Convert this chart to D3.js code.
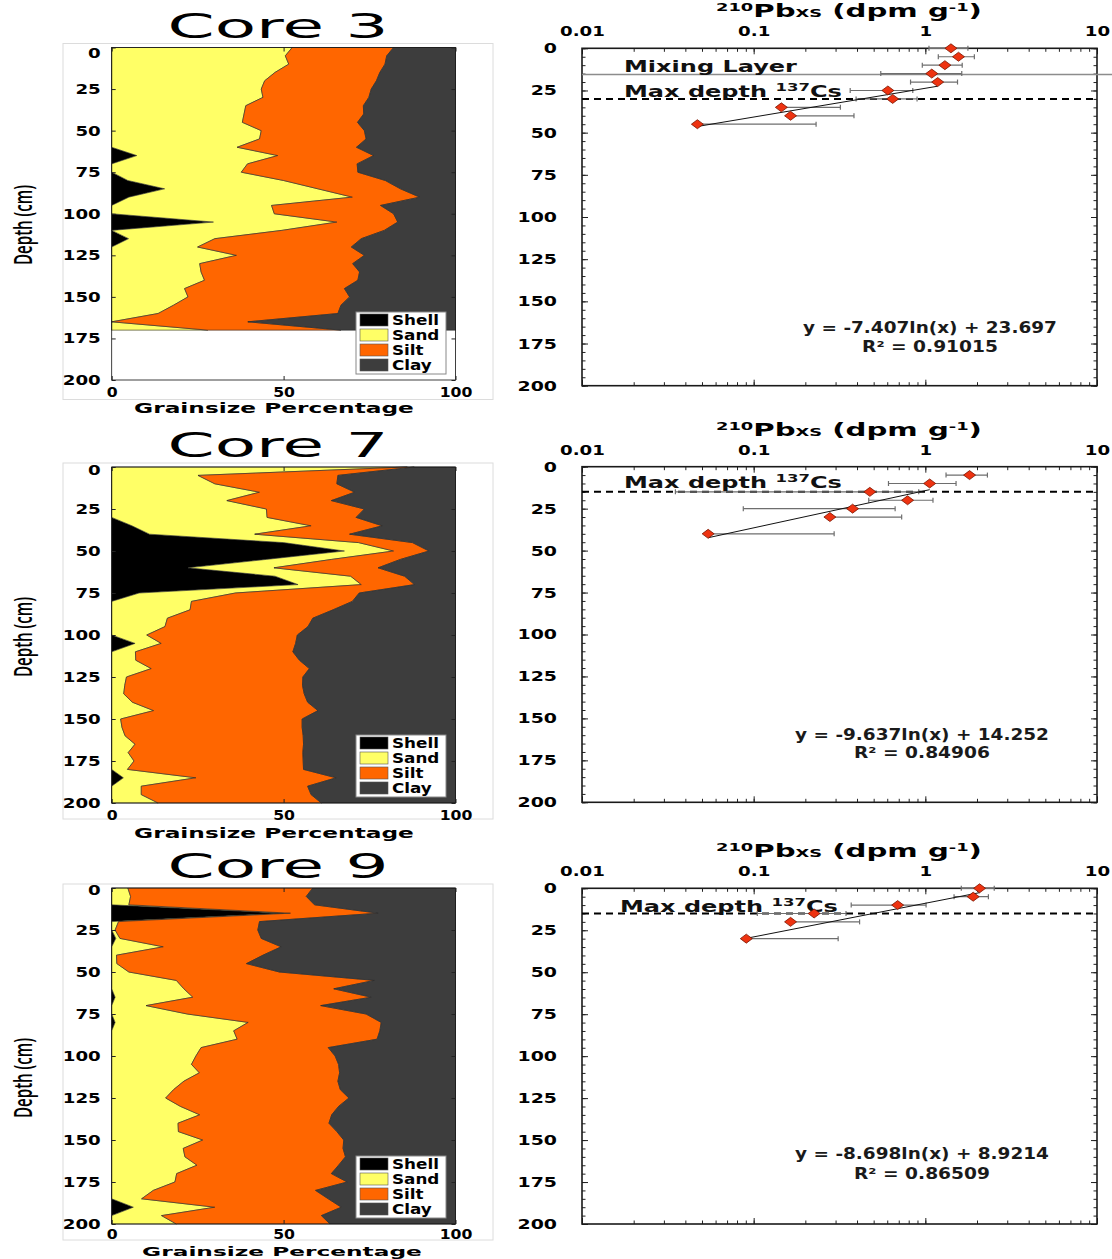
<!DOCTYPE html>
<html>
<head>
<meta charset="utf-8">
<script src="https://cdn.jsdelivr.net/npm/d3@7"></script>
<style>
  body { margin: 0; background: #fff; }
</style>
</head>
<body>
<div id="chart"></div>
<script>
// grain size components (percent of sample), cores sampled every 5 cm
var components = ["Shell", "Sand", "Silt", "Clay"];
var componentColours = ["#000000", "#ffff66", "#ff6600", "#3d3d3d"];

var depth3 = [0,5,10,15,20,25,30,35,40,45,50,55,60,65,70,75,80,85,90,95,100,105,110,115,120,125,130,135,140,145,150,155,160,165,170];
var shell3 = [0,0,0,0,0,0,0,0,0,0,0,0,0,7.3,0,0,4.7,15.4,5,0,0,29.6,0,4.9,0,0,0,0,0,0,0,0,0,0,0];
var sand3  = [52.5,50.5,51.5,47.5,44.5,43.5,44,39,38.5,38,43.5,43,36.5,41,39.5,37.7,45.3,44.6,65,46.5,47.3,35.9,49.5,25.1,25,36.3,25.6,26,27,21.2,22.2,18,13.5,0,28];
var silt3  = [29.5,29.5,28,30.5,32.5,32,30.8,34.2,34.8,33.5,30,31,34.7,27.9,31.9,33.9,29.6,24,19.6,31.7,34.7,17.7,29.8,42.6,44.7,37.2,44.5,46.1,44.6,46.5,47,48.7,52.3,39.6,38.7];
var clay3  = [18,20,20.5,22,23,24.5,25.2,26.8,26.7,28.5,26.5,26,28.8,23.8,28.6,28.4,20.4,16,10.4,21.8,18,16.8,20.7,27.4,30.3,26.5,29.9,27.9,28.4,32.3,30.8,33.3,34.2,60.4,33.3];

var depth7 = [0,5,10,15,20,25,30,35,40,45,50,55,60,65,70,75,80,85,90,95,100,105,110,115,120,125,130,135,140,145,150,155,160,165,170,175,180,185,190,195,200];
var shell7 = [0,0,0,0,0,0,0,5.9,11,50,67.7,45,22.2,47.5,54.2,8,0,0,0,0,0,6.8,0,0,0,0,0,0,0,0,0,0,0,0,0,0,0,3.4,0,0,0];
var sand7  = [86,25.1,30,43,33.5,45,45.2,52.1,30.6,21.8,14.3,19,25,22,18.4,28,23.2,22.8,16.2,15.5,10.2,7.6,6.9,7,11.5,4.3,3.8,3.5,6,12.2,2.6,3,3.9,6.8,4.8,6.5,4.6,21.1,8.6,8.6,13.5];
var silt7  = [2,40.7,35.5,27.7,30.4,28.5,25.9,20.7,27.6,15.7,10.3,20,30.3,15.7,15.5,36,46.8,41.6,42.3,41.6,43.8,39.1,45.8,47.6,46,51.3,51.7,52.5,51,47.8,52.8,52.4,51.8,49,50.8,49.2,51.2,40.8,48.4,49.4,47.5];
var clay7  = [12,34.2,34.5,29.3,36.1,26.5,28.9,21.3,30.8,12.5,7.7,16,22.5,14.8,11.9,28,30,35.6,41.5,42.9,46,46.5,47.3,45.4,42.5,44.4,44.5,44,43,40,44.6,44.6,44.3,44.2,44.4,44.3,44.2,34.7,43,42,39];

var depth9 = [0,5,10,15,20,25,30,35,40,45,50,55,60,65,70,75,80,85,90,95,100,105,110,115,120,125,130,135,140,145,150,155,160,165,170,175,180,185,190,195,200];
var shell9 = [0,0,0,50,0,0,1.2,0,0,0,0,0,0,1,0,0,1,0,0,0,0,0,0,0,0,0,0,0,0,0,0,0,0,0,0,0,0,0,6.3,0,0];
var sand9  = [4.7,5.5,5,2,2,1,1.2,15,1.4,1.5,5,18.8,21,22.6,10,22,38.7,35.5,36.5,26,24.5,23.2,25.5,21,18,15.7,20,25.6,19.3,19.4,26.5,20.8,21.3,24.8,18.9,18.4,12.1,8.7,23.7,14.5,18.8];
var silt9  = [53.8,51.1,54,25.5,41,41.5,41.1,34.3,42.6,37.7,43.8,57.6,43.6,51.9,50.8,52,38.7,42.5,40.7,37,40.5,42.8,40.8,44.8,48.5,53.3,46,38.4,43.9,46.1,41,46.5,46.7,41.2,45,50.1,47.2,54.3,36.8,46.5,44.7];
var clay9  = [41.5,43.4,41,22.5,57,57.5,56.5,50.7,56,60.8,51.2,23.6,35.4,24.5,39.2,26,21.6,22,22.8,37,35,34,33.7,34.2,33.5,31,34,36,36.8,34.5,32.5,32.7,32,34,36.1,31.5,40.7,37,33.2,39,36.5];

// 210Pb excess activity (dpm/g) with its error
var pbDepth3 = [0,5,10,15,20,25,30,35,40,45];
var pbValue3 = [1.41,1.56,1.30,1.09,1.18,0.605,0.645,0.145,0.164,0.047];
var pbError3 = [0.36,0.37,0.34,0.54,0.36,0.24,0.25,0.175,0.22,0.184];
var pbDepth7 = [5,10,15,20,25,30,40];
var pbValue7 = [1.81,1.06,0.475,0.788,0.377,0.278,0.0543];
var pbError7 = [0.49,0.45,0.44,0.32,0.29,0.45,0.24];
var pbDepth9 = [0,5,10,15,20,30];
var pbValue9 = [2.07,1.90,0.69,0.225,0.164,0.0906];
var pbError9 = [0.45,0.43,0.32,0.12,0.25,0.22];

// log fits y = a ln(x) + b, the range of x they cover, and R squared
var fitCoef3 = [-7.407, 23.697], fitRange3 = [0.047, 1.18], fitR2_3 = "0.91015";
var fitCoef7 = [-9.637, 14.252], fitRange7 = [0.0543, 1.06], fitR2_7 = "0.84906";
var fitCoef9 = [-8.698, 8.9214], fitRange9 = [0.0906, 2.07], fitR2_9 = "0.86509";

var csDepth = [30, 15, 15];      // max depth of 137Cs
var mixingDepth = [15.5, null, null];

var depthTicks = [0,25,50,75,100,125,150,175,200];
var percentTicks = [0,50,100];
var pbTicks = [0.01,0.1,1,10];

var cores = [
  {name: "Core 3", depth: depth3, Shell: shell3, Sand: sand3, Silt: silt3, Clay: clay3,
   pbDepth: pbDepth3, pbValue: pbValue3, pbError: pbError3, fit: fitCoef3, fitRange: fitRange3, r2: fitR2_3},
  {name: "Core 7", depth: depth7, Shell: shell7, Sand: sand7, Silt: silt7, Clay: clay7,
   pbDepth: pbDepth7, pbValue: pbValue7, pbError: pbError7, fit: fitCoef7, fitRange: fitRange7, r2: fitR2_7},
  {name: "Core 9", depth: depth9, Shell: shell9, Sand: sand9, Silt: silt9, Clay: clay9,
   pbDepth: pbDepth9, pbValue: pbValue9, pbError: pbError9, fit: fitCoef9, fitRange: fitRange9, r2: fitR2_9}
];

// layout
var leftTop = [47.5, 467, 888], leftBottom = [380, 803, 1224];
var rightTop = [48.3, 466.7, 888.3], rightBottom = [385.7, 802.3, 1224];
var gx0 = 111.7, gx1 = 455.5, px0 = 582, px1 = 1097;
var titleBase = [38, 457, 878];
var xTickPad = [7, 7, 5];
var xLabelBase = [413, 838, 1256], xLabelCx = [274, 274, 282], xLabelSize = [14, 14, 12.5];
var depthLabelCy = [225, 637, 1078];
var zeroShift = [6, 3, 2];
var eqCx = [930, 922, 922], eqBase = [[333, 352], [740, 758], [1159, 1179]];
var csTextX = [624, 624, 620], csTextBase = [97, 488, 912];

var svg = d3.select("#chart").append("svg")
    .attr("width", 1112).attr("height", 1259)
    .style("display", "block").style("background", "#fff");

// the source picture is stretched sideways, so texts get widened about their anchor
function stretch(sel, sx) {
  sel.each(function() {
    var t = d3.select(this), x = +t.attr("x") || 0, y = +t.attr("y") || 0;
    t.attr("transform", "translate(" + x + "," + y + ")scale(" + sx + ",1)translate(" + (-x) + "," + (-y) + ")");
  });
}
function fitWidth(t, width) {
  stretch(t, width / t.node().getComputedTextLength());
}
function styleAxis(g, size) {
  g.attr("font-family", "DejaVu Sans").attr("font-weight", "bold").attr("font-size", size);
  g.select(".domain").remove();
  g.selectAll("line").attr("stroke", "#222");
  g.selectAll("text").attr("fill", "#000");
}

cores.forEach(function(c, i) {
  //
  // grain size panel
  //
  var gt = leftTop[i], gb = leftBottom[i];
  var x = d3.scaleLinear().domain([0, 100]).range([gx0, gx1]);
  var y = d3.scaleLinear().domain([0, 200]).range([gt, gb]);

  svg.append("rect").attr("x", 63).attr("y", gt - 4).attr("width", 430).attr("height", 356)
      .attr("fill", "none").attr("stroke", "#dcdcdc");

  var rows = c.depth.map(function(d, k) {
    var r = {depth: d};
    components.forEach(function(n) { r[n] = c[n][k]; });
    return r;
  });
  var series = d3.stack().keys(components)(rows);
  var area = d3.area()
      .y(function(d) { return y(d.data.depth); })
      .x0(function(d) { return x(d[0]); })
      .x1(function(d) { return x(d[1]); });
  svg.append("g").selectAll("path").data(series).join("path")
      .attr("d", area)
      .attr("fill", function(d, k) { return componentColours[k]; })
      .attr("stroke", "#2a2a2a").attr("stroke-width", 0.6).attr("stroke-linejoin", "round");

  svg.append("rect").attr("x", gx0).attr("y", gt).attr("width", gx1 - gx0).attr("height", gb - gt)
      .attr("fill", "none").attr("stroke", "#111").attr("stroke-width", 0.8);

  var yl = svg.append("g").attr("transform", "translate(" + gx0 + ",0)")
      .call(d3.axisLeft(y).tickValues(depthTicks).tickSize(-4).tickPadding(11));
  styleAxis(yl, 14);
  yl.selectAll(".tick").filter(function(d) { return d === 0; }).select("text").attr("y", zeroShift[i]);
  stretch(yl.selectAll("text"), 1.3);

  var yr = svg.append("g").attr("transform", "translate(" + gx1 + ",0)")
      .call(d3.axisRight(y).tickValues(depthTicks).tickSize(-4).tickFormat(""));
  styleAxis(yr, 14);

  var xb = svg.append("g").attr("transform", "translate(0," + gb + ")")
      .call(d3.axisBottom(x).tickValues(percentTicks).tickSize(-4).tickPadding(xTickPad[i]));
  styleAxis(xb, 14);
  stretch(xb.selectAll("text"), 1.12);
  var xt = svg.append("g").attr("transform", "translate(0," + gt + ")")
      .call(d3.axisTop(x).tickValues(percentTicks).tickSize(-4).tickFormat(""));
  styleAxis(xt, 14);

  var title = svg.append("text").attr("x", 278).attr("y", titleBase[i])
      .attr("text-anchor", "middle").attr("font-family", "DejaVu Sans").attr("font-size", 33)
      .attr("fill", "#000").text(c.name);
  fitWidth(title, 221);

  var xl = svg.append("text").attr("x", xLabelCx[i]).attr("y", xLabelBase[i])
      .attr("text-anchor", "middle").attr("font-family", "DejaVu Sans").attr("font-weight", "bold")
      .attr("font-size", xLabelSize[i]).attr("fill", "#000").text("Grainsize Percentage");
  fitWidth(xl, 280);

  var dl = svg.append("text").attr("text-anchor", "middle")
      .attr("font-family", "Open Sans").attr("font-weight", 600).attr("font-size", 17)
      .attr("fill", "#000").text("Depth (cm)");
  var dlw = dl.node().getComputedTextLength();
  dl.attr("transform", "translate(32," + depthLabelCy[i] + ")rotate(-90)scale(" + (80 / dlw) + ",1.5)");

  // legend
  var lg = svg.append("g").attr("transform", "translate(356," + (gb - 68) + ")");
  lg.append("rect").attr("width", 90).attr("height", 62).attr("fill", "#fff").attr("stroke", "#888");
  components.forEach(function(n, k) {
    lg.append("rect").attr("x", 4).attr("y", 2 + k * 15).attr("width", 28).attr("height", 12)
        .attr("fill", componentColours[k]).attr("stroke", "#555").attr("stroke-width", 0.6);
    var t = lg.append("text").attr("x", 36).attr("y", 13 + k * 15)
        .attr("font-family", "DejaVu Sans").attr("font-weight", "bold").attr("font-size", 14)
        .attr("fill", "#000").text(n);
    stretch(t, 1.2);
  });

  //
  // 210Pb panel
  //
  var rt = rightTop[i], rb = rightBottom[i];
  var xp = d3.scaleLog().domain([0.01, 10]).range([px0, px1]);
  var yp = d3.scaleLinear().domain([0, 200]).range([rt, rb]);

  var g = svg.append("g");
  var minorX = xp.ticks();
  var minorY = yp.ticks(40);

  [[d3.axisTop, rt], [d3.axisBottom, rb]].forEach(function(a) {
    var m = g.append("g").attr("transform", "translate(0," + a[1] + ")")
        .call(a[0](xp).tickValues(minorX).tickSize(-3.5).tickFormat(""));
    styleAxis(m, 14);
  });
  var xTop = g.append("g").attr("transform", "translate(0," + rt + ")")
      .call(d3.axisTop(xp).tickValues(pbTicks).tickSize(-6).tickPadding(12).tickFormat(d3.format("~g")));
  styleAxis(xTop, 14);
  stretch(xTop.selectAll("text"), 1.3);
  var xBot = g.append("g").attr("transform", "translate(0," + rb + ")")
      .call(d3.axisBottom(xp).tickValues(pbTicks).tickSize(-6).tickFormat(""));
  styleAxis(xBot, 14);

  [[d3.axisLeft, px0], [d3.axisRight, px1]].forEach(function(a) {
    var m = g.append("g").attr("transform", "translate(" + a[1] + ",0)")
        .call(a[0](yp).tickValues(minorY).tickSize(-3.5).tickFormat(""));
    styleAxis(m, 14);
  });
  var yLeft = g.append("g").attr("transform", "translate(" + px0 + ",0)")
      .call(d3.axisLeft(yp).tickValues(depthTicks).tickSize(-6).tickPadding(25));
  styleAxis(yLeft, 14);
  stretch(yLeft.selectAll("text"), 1.35);
  var yRight = g.append("g").attr("transform", "translate(" + px1 + ",0)")
      .call(d3.axisRight(yp).tickValues(depthTicks).tickSize(-6).tickFormat(""));
  styleAxis(yRight, 14);

  g.append("rect").attr("x", px0).attr("y", rt).attr("width", px1 - px0).attr("height", rb - rt)
      .attr("fill", "none").attr("stroke", "#1a1a1a").attr("stroke-width", 1.6);

  var at = g.append("text").attr("x", 849).attr("y", rt - 31).attr("text-anchor", "middle")
      .attr("font-family", "DejaVu Sans").attr("font-weight", "bold").attr("font-size", 18).attr("fill", "#000");
  at.append("tspan").attr("font-size", 11).attr("dy", -6).text("210");
  at.append("tspan").attr("dy", 6).text("Pb");
  at.append("tspan").attr("font-size", 11).text("XS");
  at.append("tspan").text(" (dpm g");
  at.append("tspan").attr("font-size", 11).attr("dy", -6).text("-1");
  at.append("tspan").attr("dy", 6).text(")");
  fitWidth(at, 266);

  // reference depths
  if (mixingDepth[i] != null) {
    g.append("line").attr("x1", px0).attr("x2", 1112)
        .attr("y1", yp(mixingDepth[i])).attr("y2", yp(mixingDepth[i]))
        .attr("stroke", "#8c8c8c").attr("stroke-width", 1.5);
    var mt = g.append("text").attr("x", csTextX[i]).attr("y", csTextBase[i] - 25)
        .attr("font-family", "DejaVu Sans").attr("font-weight", "bold").attr("font-size", 16)
        .attr("fill", "#111").text("Mixing Layer");
    fitWidth(mt, 173);
  }
  g.append("line").attr("x1", px0).attr("x2", px1)
      .attr("y1", yp(csDepth[i])).attr("y2", yp(csDepth[i]))
      .attr("stroke", "#000").attr("stroke-width", 2).attr("stroke-dasharray", "7,5");
  var ct = g.append("text").attr("x", csTextX[i]).attr("y", csTextBase[i])
      .attr("font-family", "DejaVu Sans").attr("font-weight", "bold").attr("font-size", 16).attr("fill", "#111");
  ct.append("tspan").text("Max depth ");
  ct.append("tspan").attr("font-size", 11).attr("dy", -6).text("137");
  ct.append("tspan").attr("dy", 6).text("Cs");
  fitWidth(ct, 218);

  // error bars
  var pts = c.pbDepth.map(function(d, k) {
    return {depth: d, value: c.pbValue[k], err: c.pbError[k]};
  });
  var lo = function(d) { return d.value - d.err > 0 ? d.value - d.err : d.value; };
  var hi = function(d) { return d.value + d.err; };
  var eb = g.append("g").attr("stroke", "#6e6e6e").attr("stroke-width", 1.2)
      .selectAll("g").data(pts).join("g");
  eb.append("line")
      .attr("x1", function(d) { return xp(lo(d)); }).attr("x2", function(d) { return xp(hi(d)); })
      .attr("y1", function(d) { return yp(d.depth); }).attr("y2", function(d) { return yp(d.depth); });
  eb.append("line")
      .attr("x1", function(d) { return xp(hi(d)); }).attr("x2", function(d) { return xp(hi(d)); })
      .attr("y1", function(d) { return yp(d.depth) - 2.5; }).attr("y2", function(d) { return yp(d.depth) + 2.5; });
  eb.filter(function(d) { return d.value - d.err > 0; }).append("line")
      .attr("x1", function(d) { return xp(lo(d)); }).attr("x2", function(d) { return xp(lo(d)); })
      .attr("y1", function(d) { return yp(d.depth) - 2.5; }).attr("y2", function(d) { return yp(d.depth) + 2.5; });

  // log fit
  var fitLine = d3.line()
      .x(function(v) { return xp(v); })
      .y(function(v) { return yp(c.fit[0] * Math.log(v) + c.fit[1]); });
  g.append("path").attr("d", fitLine(c.fitRange)).attr("fill", "none")
      .attr("stroke", "#111").attr("stroke-width", 1);

  // points
  g.append("g").selectAll("path").data(pts).join("path")
      .attr("d", "M-6,0L0,-4.5L6,0L0,4.5Z")
      .attr("transform", function(d) { return "translate(" + xp(d.value) + "," + yp(d.depth) + ")"; })
      .attr("fill", "#ee3311").attr("stroke", "#7a1500").attr("stroke-width", 0.8);

  // equation
  var e1 = g.append("text").attr("x", eqCx[i]).attr("y", eqBase[i][0]).attr("text-anchor", "middle")
      .attr("font-family", "DejaVu Sans").attr("font-weight", "bold").attr("font-size", 15).attr("fill", "#1a1a1a")
      .text("y = " + c.fit[0] + "ln(x) + " + c.fit[1]);
  fitWidth(e1, 254);
  var e2 = g.append("text").attr("x", eqCx[i]).attr("y", eqBase[i][1]).attr("text-anchor", "middle")
      .attr("font-family", "DejaVu Sans").attr("font-weight", "bold").attr("font-size", 15).attr("fill", "#1a1a1a")
      .text("R\u00b2 = " + c.r2);
  fitWidth(e2, 136);
});
</script>
</body>
</html>
